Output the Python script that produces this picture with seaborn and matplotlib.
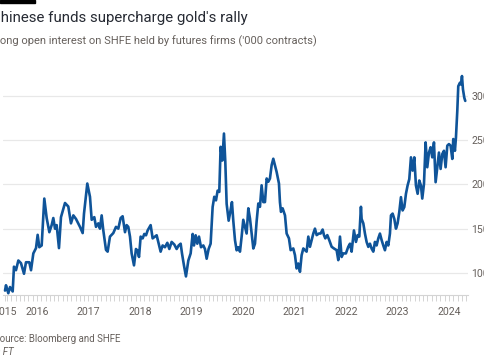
import matplotlib
matplotlib.use("Agg")
import matplotlib.pyplot as plt
import seaborn as sns
import pandas as pd
from matplotlib.patches import Rectangle
from matplotlib.ticker import FixedLocator, MultipleLocator

# Long open interest on SHFE held by futures firms ('000 contracts), x in decimal years
years = [
    2015.379, 2015.398, 2015.443, 2015.476, 2015.528, 2015.553, 2015.592, 2015.638,
    2015.689, 2015.748, 2015.786, 2015.851, 2015.884, 2015.929, 2015.981, 2016.013,
    2016.045, 2016.091, 2016.142, 2016.188, 2016.240, 2016.285, 2016.317, 2016.350,
    2016.382, 2016.427, 2016.466, 2016.544, 2016.608, 2016.660, 2016.706, 2016.757,
    2016.835, 2016.887, 2016.913, 2016.977, 2017.029, 2017.062, 2017.113, 2017.146,
    2017.191, 2017.223, 2017.256, 2017.288, 2017.340, 2017.372, 2017.417, 2017.482,
    2017.534, 2017.579, 2017.625, 2017.663,
    2017.709, 2017.741, 2017.773, 2017.806, 2017.838, 2017.884, 2017.922, 2017.955,
    2017.981, 2018.013, 2018.052, 2018.084, 2018.117, 2018.149, 2018.207, 2018.246,
    2018.291, 2018.324, 2018.356, 2018.401, 2018.440, 2018.485, 2018.531, 2018.570,
    2018.615, 2018.667, 2018.712, 2018.751, 2018.790, 2018.816, 2018.854, 2018.893,
    2018.939, 2018.984, 2019.023, 2019.049, 2019.081, 2019.113, 2019.146, 2019.185,
    2019.230, 2019.262, 2019.295, 2019.333, 2019.372, 2019.411, 2019.443, 2019.476,
    2019.508, 2019.540, 2019.566, 2019.599, 2019.631, 2019.657, 2019.683, 2019.722,
    2019.754, 2019.786, 2019.812, 2019.845, 2019.877, 2019.909,
    2019.942, 2019.974, 2020.006, 2020.039, 2020.071, 2020.104, 2020.136, 2020.168,
    2020.201, 2020.233, 2020.265, 2020.298, 2020.330, 2020.362, 2020.395, 2020.427,
    2020.460, 2020.492, 2020.524, 2020.557, 2020.589, 2020.621, 2020.654, 2020.699,
    2020.718, 2020.738, 2020.770, 2020.816, 2020.848, 2020.893, 2020.926, 2020.977,
    2021.010, 2021.042, 2021.074, 2021.107, 2021.139, 2021.172, 2021.204, 2021.236,
    2021.269, 2021.301, 2021.333, 2021.366, 2021.398, 2021.431, 2021.476, 2021.508,
    2021.547, 2021.573, 2021.599, 2021.638, 2021.676, 2021.722, 2021.767, 2021.819,
    2021.851, 2021.884, 2021.916, 2021.948, 2021.999, 2022.045, 2022.078, 2022.110,
    2022.155, 2022.194, 2022.227, 2022.259, 2022.291,
    2022.304, 2022.337, 2022.369, 2022.401, 2022.434, 2022.466, 2022.498, 2022.531,
    2022.563, 2022.595, 2022.628, 2022.660, 2022.693, 2022.725, 2022.757, 2022.790,
    2022.822, 2022.854, 2022.874, 2022.906, 2022.939, 2022.971, 2023.003, 2023.036,
    2023.068, 2023.100, 2023.133, 2023.165, 2023.197, 2023.230, 2023.262, 2023.295,
    2023.327, 2023.359, 2023.392, 2023.424, 2023.456, 2023.482, 2023.515, 2023.547,
    2023.579, 2023.612, 2023.644, 2023.676, 2023.709, 2023.741, 2023.774, 2023.806,
    2023.838, 2023.871, 2023.903, 2023.935, 2023.968, 2024.000, 2024.032, 2024.065,
    2024.084, 2024.116, 2024.136, 2024.162, 2024.181, 2024.214, 2024.233, 2024.253,
    2024.272, 2024.298, 2024.317,
]
contracts = [
    80, 86, 77, 84, 79, 107, 103, 114,
    111, 99, 112, 112, 103, 122, 128, 143,
    129, 131, 184, 162, 146, 154, 162, 150,
    154, 128, 163, 179, 175, 156, 165, 161,
    152, 145, 167, 201, 186, 160, 163, 152,
    156, 150, 165, 148, 126, 124, 141, 145,
    152, 150, 162, 164,
    146, 154, 152, 141, 122, 108.5, 127, 125,
    118, 141, 139, 144, 142.5, 148, 154, 139,
    141, 142.5, 135, 124, 131, 129, 134, 127,
    135, 132, 127, 131, 133, 122, 108.5, 96,
    114, 122, 144, 131, 142.5, 133, 141, 129,
    131, 127, 116, 127, 133, 174.5, 186, 182,
    193, 191.5, 242.5, 227, 257.5, 225.5, 178, 159,
    169, 180, 159, 137, 125.5, 129,
    124, 141, 160, 152, 144.5, 173, 161.5, 144.5,
    127.6, 133, 158, 178.4, 174.7, 199, 180, 180,
    206.7, 203, 206.7, 221.8, 229, 221.8, 214, 201,
    180, 169, 173, 165, 144.5, 139, 125.7, 127.6,
    120, 105, 110.6, 101.2, 120, 127.6, 125.7, 124,
    141, 129.5, 137, 144.5, 150, 142.7, 144.5, 144.5,
    149, 142.7, 139, 142.7, 137, 129.5, 127.6, 125.7,
    114.4, 141, 118, 122, 122, 129.5, 133, 124,
    148, 135, 142.7, 141, 174.7,
    161, 156, 144.4, 135, 129.4, 133, 127.5, 124,
    135, 131, 139, 144.4, 137, 131, 125.6, 135,
    131, 144.4, 165, 167, 161, 150, 156, 169,
    185.6, 170.6, 174.4, 189.4, 198.8, 206, 230.6, 215.6,
    230.6, 198.8, 189.4, 204.4, 198.8, 184, 200.6, 247.5,
    219.4, 236, 242, 230.6, 247.5, 202.5, 219.4, 236,
    217.5, 234.4, 238, 219.4, 243.8, 245.6, 243.8, 228.8,
    251.3, 238, 253, 283, 311, 315, 313, 322.5,
    307.5, 298, 294.4,
]

x_tick_pos = [2015.379, 2016, 2017, 2018, 2019, 2020, 2021, 2022, 2023, 2024]
x_tick_labels = ["2015", "2016", "2017", "2018", "2019", "2020", "2021", "2022", "2023", "2024"]
y_ticks = [100, 150, 200, 250, 300]

df = pd.DataFrame({"year": years, "contracts": contracts})

sns.set_style("white")
plt.rcParams["font.family"] = ["Roboto", "DejaVu Sans"]

W, H = 485, 357
fig = plt.figure(figsize=(W / 100, H / 100), dpi=100)
fig.patch.set_facecolor("white")

# axes box in pixels: x 3..468, y 69..295
ax = fig.add_axes([3 / W, 1 - 295 / H, 465 / W, (295 - 69.4) / H])
sns.lineplot(data=df, x="year", y="contracts", ax=ax, color="#0f5499", linewidth=1.9)

ax.set_xlim(2015.34, 2024.37)
ax.set_ylim(75, 330)
ax.set_xlabel("")
ax.set_ylabel("")

for s in ["top", "left", "right"]:
    ax.spines[s].set_visible(False)
ax.spines["bottom"].set_color("#d4d4d4")
ax.spines["bottom"].set_linewidth(0.8)

ax.yaxis.tick_right()
ax.set_yticks(y_ticks)
ax.set_yticklabels([str(v) for v in y_ticks])
ax.tick_params(axis="y", length=0, pad=2.5, labelsize=7.6, labelcolor="#66605c")
ax.grid(axis="y", color="#e8e8e8", linewidth=0.9)
ax.set_axisbelow(True)

ax.xaxis.set_major_locator(FixedLocator(x_tick_pos))
ax.set_xticklabels(x_tick_labels)
ax.xaxis.set_minor_locator(MultipleLocator(1 / 12))
ax.tick_params(axis="x", which="both", length=4.3, width=0.7, color="#d4d4d4",
               direction="out", bottom=True)
ax.tick_params(axis="x", which="major", pad=4, labelsize=7.6, labelcolor="#66605c")

# black bar top-left
fig.patches.append(Rectangle((0, 1 - 3 / H), 35 / W, 3 / H, transform=fig.transFigure,
                             color="black", zorder=5))

fig.text(-9 / W, 1 - 22 / H, "Chinese funds supercharge gold's rally", fontsize=10.8,
         color="#262a33", va="baseline", ha="left")
fig.text(-6 / W, 1 - 44 / H, "Long open interest on SHFE held by futures firms ('000 contracts)",
         fontsize=8.0, color="#66605c", va="baseline", ha="left")
fig.text(-6 / W, 1 - 342 / H, "Source: Bloomberg and SHFE", fontsize=7.0,
         color="#66605c", va="baseline", ha="left")
fig.text(-7 / W, 1 - 355 / H, "© FT", fontsize=7.0, style="italic",
         color="#66605c", va="baseline", ha="left")

fig.savefig("out.png", dpi=100, facecolor="white")
